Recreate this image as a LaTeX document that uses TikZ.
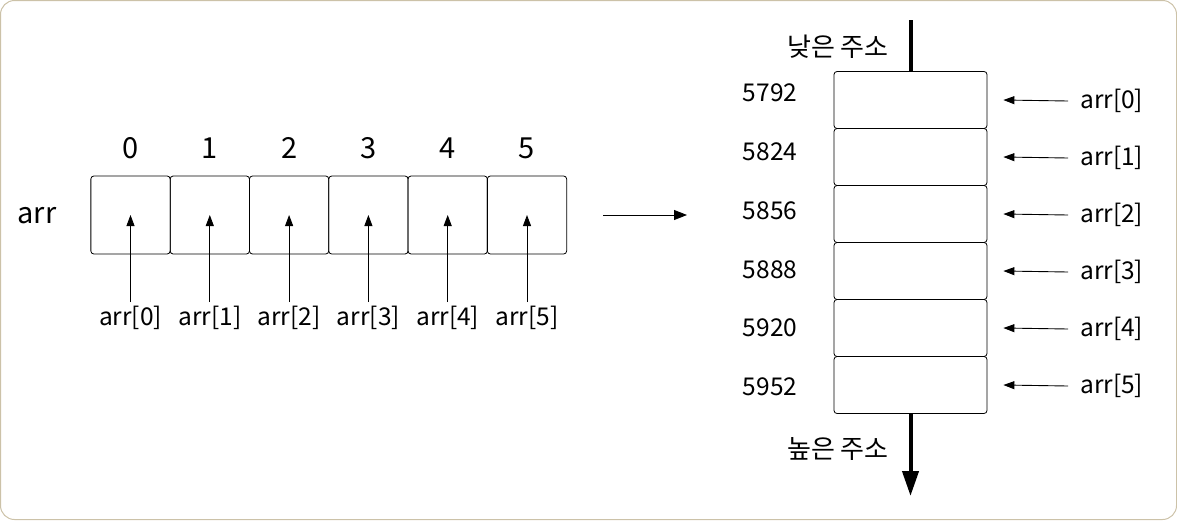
\documentclass[tikz,border=0pt]{standalone}
\usepackage{fontspec}
\setmainfont{Noto Sans CJK KR}
\usetikzlibrary{positioning,arrows.meta}
\definecolor{framecol}{RGB}{204,194,168}

\begin{document}
\begin{tikzpicture}[x=1pt,y=-1pt,
    cell/.style={draw, line width=0.8pt, rounded corners=3pt, minimum width=79.3pt, minimum height=78pt, inner sep=0pt},
    memcell/.style={draw, line width=0.8pt, rounded corners=3pt, minimum width=153pt, minimum height=57pt, inner sep=0pt},
    txt/.style={font=\fontsize{24.5}{28}\selectfont, inner sep=0pt},
    bigtxt/.style={font=\fontsize{29}{33}\selectfont, inner sep=0pt},
    ptr/.style={line width=0.9pt, -{Triangle[length=11pt,width=8pt]}},
    bigline/.style={line width=4pt}]
  \useasboundingbox (0,0) rectangle (1177,520);
  \draw[framecol, line width=1pt, rounded corners=14pt] (0.5,0.5) rectangle (1176.5,519.5);

  % left: the array
  \node[bigtxt] (arrname) at (37,216) {arr};
  \foreach \i in {0,...,5} {
    \node[cell] (cell\i) at (130.5+79.3*\i,215) {};
    \node[bigtxt] (idx\i) at (130.5+79.3*\i,148) {\i};
    \node[txt] (lab\i) at (130.5+79.3*\i,318) {arr[\i]};
    \draw[ptr] ([yshift=4pt]lab\i.north) -- (cell\i.center);
  }

  % middle arrow
  \coordinate (from) at (603,215);
  \coordinate (to) at (687,215);
  \draw[line width=0.9pt, -{Triangle[length=13pt,width=10pt]}] (from) -- (to);

  % right: memory layout
  \foreach \i/\addr in {0/5792,1/5824,2/5856,3/5888,4/5920,5/5952} {
    \node[memcell] (mem\i) at (910.5,100+57*\i) {};
    \node[txt] (addr\i) at (770,93+58.8*\i) {\addr};
    \node[txt, anchor=west] (ref\i) at (1080,101+57*\i) {arr[\i]};
    \draw[ptr] ([xshift=-12pt]ref\i.west) -- ([xshift=16pt]mem\i.east);
  }

  \coordinate (top) at (910.5,20);
  \coordinate (bot) at (910.5,496);
  \draw[bigline] (top) -- (mem0.north);
  \draw[bigline, -{Triangle[length=25pt,width=16pt]}] (mem5.south) -- (bot);
  \node[txt, font=\fontsize{26}{30}\selectfont] (low) at (838,47) {낮은 주소};
  \node[txt, font=\fontsize{26}{30}\selectfont] (high) at (838,449) {높은 주소};
\end{tikzpicture}
\end{document}
